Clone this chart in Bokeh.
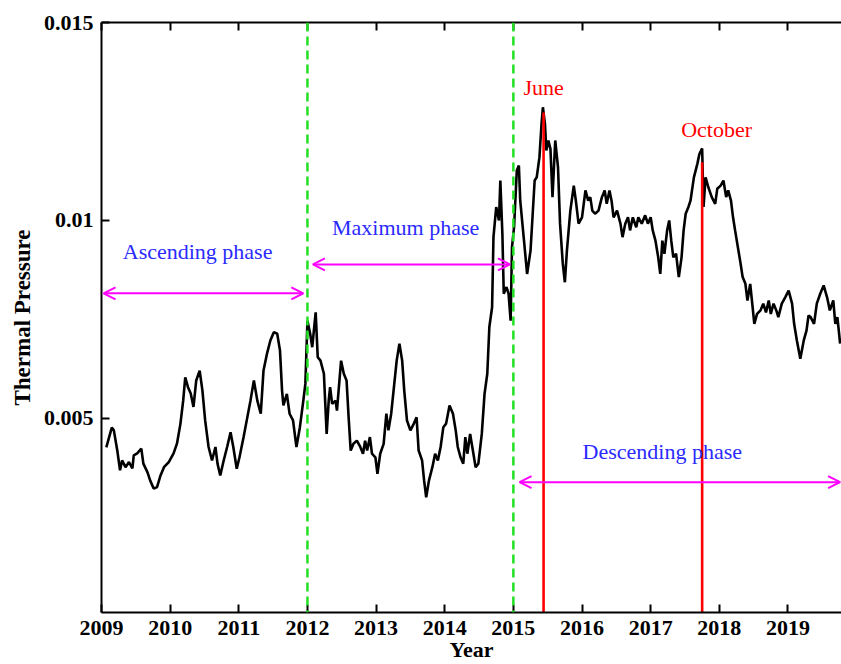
from bokeh.plotting import figure
from bokeh.models import (FixedTicker, LinearAxis, Span, Arrow, OpenHead, Label,
                          ColumnDataSource, Range1d)
from bokeh.embed import file_html
from bokeh.resources import INLINE

# ---------------- data ----------------
years = [
    2009.07, 2009.15, 2009.18, 2009.23, 2009.27, 2009.30, 2009.35, 2009.40, 2009.45, 2009.47,
    2009.52, 2009.58, 2009.61, 2009.67, 2009.71, 2009.76, 2009.81, 2009.86, 2009.91, 2009.98,
    2010.05, 2010.10, 2010.15, 2010.19, 2010.22, 2010.26, 2010.30, 2010.34, 2010.38, 2010.43,
    2010.47, 2010.51, 2010.56, 2010.61, 2010.66, 2010.69, 2010.73, 2010.78, 2010.83, 2010.88,
    2010.92, 2010.97,
    2011.01, 2011.07, 2011.12, 2011.17, 2011.22, 2011.27, 2011.32, 2011.36, 2011.41, 2011.46,
    2011.51, 2011.56, 2011.60, 2011.63, 2011.65, 2011.70, 2011.74, 2011.79, 2011.84, 2011.89,
    2011.94, 2011.97,
    2012.00, 2012.04, 2012.07, 2012.12, 2012.15, 2012.19, 2012.24, 2012.28, 2012.31, 2012.33,
    2012.36, 2012.41, 2012.43, 2012.49, 2012.53, 2012.57, 2012.60, 2012.63, 2012.67, 2012.72,
    2012.77, 2012.81, 2012.84, 2012.87, 2012.91, 2012.94, 2012.99,
    2013.02, 2013.06, 2013.11, 2013.15, 2013.18, 2013.22, 2013.26, 2013.30, 2013.34, 2013.38,
    2013.41, 2013.45, 2013.50, 2013.55, 2013.59, 2013.62, 2013.67, 2013.70, 2013.73, 2013.77,
    2013.82, 2013.86, 2013.90, 2013.94, 2013.98,
    2014.02, 2014.07, 2014.12, 2014.16, 2014.19, 2014.23, 2014.27, 2014.30, 2014.33, 2014.37,
    2014.41, 2014.45, 2014.49, 2014.54, 2014.58, 2014.62, 2014.65, 2014.69, 2014.71, 2014.75,
    2014.79, 2014.81, 2014.84, 2014.86, 2014.90, 2014.93, 2014.96, 2014.98,
    2015.01, 2015.05, 2015.08, 2015.10, 2015.15, 2015.20, 2015.25, 2015.31, 2015.34, 2015.38,
    2015.41, 2015.43, 2015.46, 2015.48, 2015.51, 2015.54, 2015.57, 2015.61, 2015.65, 2015.68,
    2015.72, 2015.75, 2015.78, 2015.83, 2015.88, 2015.91, 2015.95,
    2016.00, 2016.05, 2016.09, 2016.12, 2016.15, 2016.19, 2016.24, 2016.29, 2016.33, 2016.36,
    2016.40, 2016.43, 2016.46, 2016.51, 2016.56, 2016.59, 2016.63, 2016.67, 2016.70, 2016.74,
    2016.79, 2016.82, 2016.87, 2016.92, 2016.96,
    2017.00, 2017.03, 2017.07, 2017.11, 2017.14, 2017.17, 2017.20, 2017.24, 2017.27, 2017.30,
    2017.33, 2017.37, 2017.41, 2017.45, 2017.48, 2017.51, 2017.55, 2017.58, 2017.63, 2017.68,
    2017.71, 2017.75, 2017.77, 2017.80, 2017.84, 2017.89, 2017.94, 2017.97,
    2018.02, 2018.06, 2018.10, 2018.13, 2018.17, 2018.20, 2018.23, 2018.27, 2018.31, 2018.34,
    2018.38, 2018.41, 2018.45, 2018.48, 2018.51, 2018.55, 2018.60, 2018.64, 2018.68, 2018.72,
    2018.75, 2018.79, 2018.83, 2018.86, 2018.91, 2018.96,
    2019.01, 2019.06, 2019.09, 2019.13, 2019.18, 2019.23, 2019.27, 2019.30, 2019.33, 2019.38,
    2019.42, 2019.47, 2019.52, 2019.57, 2019.61, 2019.66, 2019.69, 2019.72, 2019.76,
]

thermal_pressure = [
    4.27e-3, 4.77e-3, 4.70e-3, 4.19e-3, 3.69e-3, 3.94e-3, 3.77e-3, 3.90e-3, 3.74e-3, 4.07e-3,
    4.12e-3, 4.24e-3, 3.86e-3, 3.64e-3, 3.43e-3, 3.23e-3, 3.27e-3, 3.56e-3, 3.77e-3, 3.90e-3,
    4.12e-3, 4.37e-3, 4.87e-3, 5.45e-3, 6.04e-3, 5.79e-3, 5.63e-3, 5.29e-3, 5.96e-3, 6.21e-3,
    5.71e-3, 4.95e-3, 4.28e-3, 3.94e-3, 4.28e-3, 3.86e-3, 3.56e-3, 3.94e-3, 4.28e-3, 4.65e-3,
    4.28e-3, 3.73e-3,
    4.02e-3, 4.53e-3, 4.99e-3, 5.45e-3, 5.96e-3, 5.45e-3, 5.12e-3, 6.21e-3, 6.63e-3, 6.97e-3,
    7.18e-3, 7.14e-3, 6.72e-3, 5.71e-3, 5.33e-3, 5.62e-3, 5.12e-3, 4.95e-3, 4.28e-3, 4.78e-3,
    5.45e-3, 5.88e-3,
    7.47e-3, 7.14e-3, 6.80e-3, 7.68e-3, 6.55e-3, 6.46e-3, 6.13e-3, 4.61e-3, 5.45e-3, 5.79e-3,
    5.37e-3, 5.45e-3, 5.20e-3, 6.46e-3, 6.13e-3, 5.96e-3, 5.03e-3, 4.19e-3, 4.36e-3, 4.44e-3,
    4.28e-3, 4.11e-3, 4.44e-3, 4.19e-3, 4.53e-3, 4.11e-3, 4.02e-3,
    3.60e-3, 4.11e-3, 4.36e-3, 5.12e-3, 4.70e-3, 5.12e-3, 5.79e-3, 6.46e-3, 6.89e-3, 6.46e-3,
    5.71e-3, 4.95e-3, 4.70e-3, 4.87e-3, 5.03e-3, 4.19e-3, 3.94e-3, 3.43e-3, 3.01e-3, 3.43e-3,
    3.77e-3, 4.11e-3, 3.94e-3, 4.28e-3, 4.78e-3,
    4.87e-3, 5.33e-3, 5.12e-3, 4.70e-3, 4.28e-3, 4.02e-3, 3.86e-3, 4.53e-3, 4.11e-3, 4.61e-3,
    4.19e-3, 3.77e-3, 3.86e-3, 4.61e-3, 5.62e-3, 6.13e-3, 7.31e-3, 7.81e-3, 9.58e-3, 10.34e-3,
    10.00e-3, 11.01e-3, 9.66e-3, 8.15e-3, 8.32e-3, 8.15e-3, 7.47e-3, 9.33e-3,
    9.83e-3, 11.26e-3, 11.39e-3, 10.50e-3, 9.58e-3, 8.65e-3, 9.24e-3, 11.01e-3, 11.09e-3, 11.60e-3,
    12.44e-3, 12.86e-3, 12.44e-3, 11.77e-3, 12.02e-3, 11.81e-3, 10.59e-3, 12.02e-3, 11.35e-3, 9.92e-3,
    8.91e-3, 8.44e-3, 9.24e-3, 10.25e-3, 10.88e-3, 10.50e-3, 9.92e-3,
    10.08e-3, 10.76e-3, 10.50e-3, 10.59e-3, 10.25e-3, 10.17e-3, 10.25e-3, 10.59e-3, 10.76e-3, 10.42e-3,
    10.76e-3, 10.50e-3, 10.08e-3, 10.25e-3, 9.92e-3, 9.58e-3, 9.92e-3, 10.08e-3, 9.75e-3, 10.08e-3,
    9.83e-3, 10.08e-3, 9.92e-3, 10.13e-3, 9.92e-3,
    10.08e-3, 9.75e-3, 9.49e-3, 9.07e-3, 8.65e-3, 9.49e-3, 9.16e-3, 9.75e-3, 10.00e-3, 9.49e-3,
    9.07e-3, 9.16e-3, 8.57e-3, 9.07e-3, 9.75e-3, 10.17e-3, 10.34e-3, 10.50e-3, 11.09e-3, 11.43e-3,
    11.68e-3, 11.82e-3, 10.34e-3, 11.09e-3, 10.84e-3, 10.59e-3, 10.42e-3, 10.80e-3,
    10.88e-3, 11.01e-3, 10.59e-3, 10.76e-3, 10.50e-3, 10.08e-3, 9.75e-3, 9.33e-3, 8.91e-3, 8.57e-3,
    8.40e-3, 7.98e-3, 8.40e-3, 7.90e-3, 7.39e-3, 7.64e-3, 7.73e-3, 7.90e-3, 7.68e-3, 7.98e-3,
    7.64e-3, 7.90e-3, 7.73e-3, 7.56e-3, 7.90e-3, 8.06e-3,
    8.23e-3, 7.90e-3, 7.39e-3, 6.97e-3, 6.51e-3, 6.97e-3, 7.22e-3, 7.60e-3, 7.56e-3, 7.39e-3,
    7.90e-3, 8.15e-3, 8.36e-3, 8.06e-3, 7.73e-3, 7.98e-3, 7.39e-3, 7.56e-3, 6.89e-3,
]

year_ticks = [2009, 2010, 2011, 2012, 2013, 2014, 2015, 2016, 2017, 2018, 2019]
pressure_ticks = [0.005, 0.01, 0.015]
pressure_tick_labels = ["0.005", "0.01", "0.015"]

phase_boundaries = [2012.0, 2015.0]
phase_names = ["Ascending phase", "Maximum phase", "Descending phase"]
phase_starts = [2009.03, 2012.08, 2015.09]
phase_ends = [2011.94, 2014.95, 2019.76]
phase_arrow_levels = [0.00816, 0.00889, 0.00339]
phase_label_x = [2010.40, 2013.43, 2017.17]
phase_label_y = [0.00922, 0.00982, 0.00416]

peak_months = ["June", "October"]
peak_years = [2015.44, 2017.75]
peak_values = [0.01273, 0.01147]
peak_label_x = [2015.44, 2017.96]
peak_label_y = [0.01336, 0.01229]

X_START, X_END = 2009.0, 2019.78
Y_START, Y_END = 0.0001, 0.015

FONT = "Liberation Serif"
BLUE = "#2a2aff"
MAGENTA = "#ff00ff"
GREEN = "#22e022"
RED = "#ff0000"

# ---------------- figure ----------------
p = figure(width=841, height=664,
           x_range=Range1d(X_START, X_END), y_range=Range1d(Y_START, Y_END),
           output_backend="svg", toolbar_location=None,
           min_border_left=101, min_border_right=0, min_border_top=22, min_border_bottom=52)
p.outline_line_color = None
p.grid.visible = False
p.background_fill_color = "white"
p.border_fill_color = "white"

src = ColumnDataSource(dict(x=years, y=thermal_pressure))
p.line("x", "y", source=src, line_color="black", line_width=2.6)

# phase boundaries
for b in phase_boundaries:
    p.add_layout(Span(location=b, dimension="height", line_color=GREEN,
                      line_width=2.5, line_dash="9 5"))

# peak month markers
p.segment(x0=peak_years, y0=[Y_START - 0.001] * len(peak_years),
          x1=peak_years, y1=peak_values, line_color=RED, line_width=2.6)

for name, x, y in zip(peak_months, peak_label_x, peak_label_y):
    p.add_layout(Label(x=x, y=y, text=name, text_align="center",
                       text_baseline="alphabetic", text_font=FONT,
                       text_font_size="22px", text_color=RED))

# phase arrows and labels
for s, e, lvl in zip(phase_starts, phase_ends, phase_arrow_levels):
    p.add_layout(Arrow(x_start=s, y_start=lvl, x_end=e, y_end=lvl,
                       start=OpenHead(size=12, line_color=MAGENTA, line_width=2),
                       end=OpenHead(size=12, line_color=MAGENTA, line_width=2),
                       line_color=MAGENTA, line_width=2))

for name, x, y in zip(phase_names, phase_label_x, phase_label_y):
    p.add_layout(Label(x=x, y=y, text=name, text_align="center",
                       text_baseline="alphabetic", text_font=FONT,
                       text_font_size="22px", text_color=BLUE))

# ---------------- axes ----------------
def style_axis(ax):
    ax.major_tick_in = 8
    ax.major_tick_out = 0
    ax.minor_tick_in = 0
    ax.minor_tick_out = 0
    ax.axis_line_width = 2
    ax.axis_line_color = "black"
    ax.major_tick_line_width = 2
    ax.major_tick_line_color = "black"
    ax.major_label_text_font = FONT
    ax.major_label_text_font_size = "22px"
    ax.major_label_text_font_style = "bold"
    ax.major_label_text_color = "black"
    ax.major_label_standoff = 8

xa = p.xaxis[0]
xa.ticker = FixedTicker(ticks=year_ticks)
style_axis(xa)
xa.axis_label = "Year"
xa.axis_label_text_font = FONT
xa.axis_label_text_font_size = "22px"
xa.axis_label_text_font_style = "bold"
xa.axis_label_text_color = "black"
xa.axis_label_standoff = -1

ya = p.yaxis[0]
ya.ticker = FixedTicker(ticks=pressure_ticks)
ya.major_label_overrides = dict(zip(pressure_ticks, pressure_tick_labels))
style_axis(ya)
ya.axis_label = "Thermal Pressure"
ya.axis_label_text_font = FONT
ya.axis_label_text_font_size = "23px"
ya.axis_label_text_font_style = "bold"
ya.axis_label_text_color = "black"
ya.axis_label_standoff = 6

# top frame edge with inward ticks (no labels)
top = LinearAxis(ticker=FixedTicker(ticks=year_ticks))
style_axis(top)
top.major_label_overrides = {t: "" for t in year_ticks}
top.major_label_text_font_size = "0px"
top.major_label_standoff = 0
p.add_layout(top, "above")

open("out.html", "w").write(file_html(p, INLINE))
